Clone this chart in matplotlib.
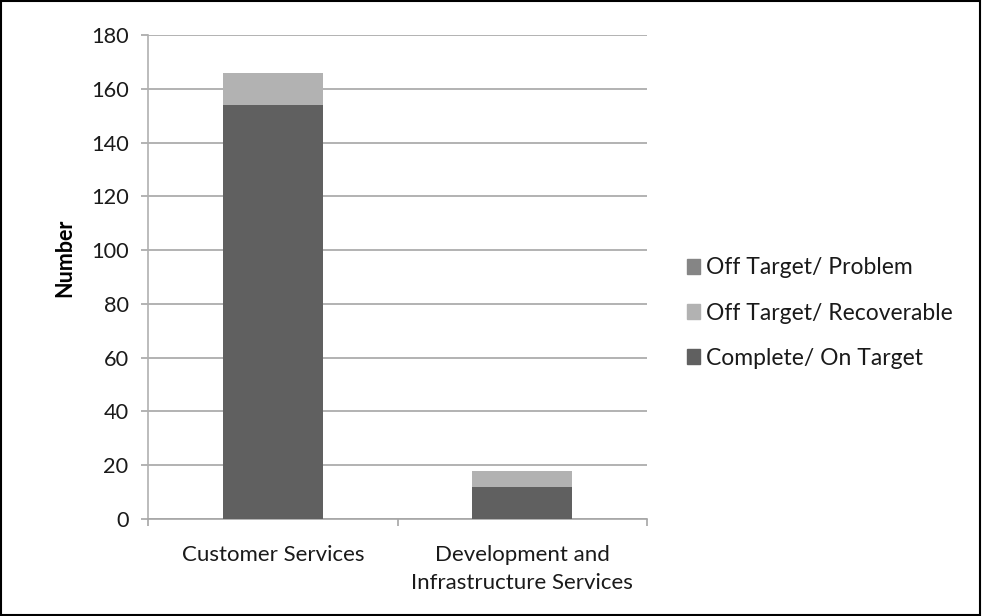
import matplotlib
matplotlib.use("Agg")
import matplotlib.pyplot as plt
from matplotlib.patches import Rectangle, Patch
import numpy as np

categories = ["Customer Services", "Development and\nInfrastructure Services"]
complete_on_target = [154, 12]
off_target_recoverable = [12, 6]
off_target_problem = [0, 0]
series_names = ["Off Target/ Problem", "Off Target/ Recoverable", "Complete/ On Target"]
yticks = [0, 20, 40, 60, 80, 100, 120, 140, 160, 180]

c_complete = "#606060"
c_recov = "#b2b2b2"
c_problem = "#858585"

plt.rcParams['font.family'] = ['Lato', 'DejaVu Sans']

fig = plt.figure(figsize=(9.82, 6.16), dpi=100)
ax = fig.add_axes([148/982, 1-519/616, (647-148)/982, (519-35)/616])

x = np.arange(len(categories))
w = 0.4
ax.bar(x, complete_on_target, w, color=c_complete, zorder=3)
ax.bar(x, off_target_recoverable, w, bottom=complete_on_target, color=c_recov, zorder=3)
bottom2 = np.array(complete_on_target) + np.array(off_target_recoverable)
ax.bar(x, off_target_problem, w, bottom=bottom2, color=c_problem, zorder=3)

ax.set_xlim(-0.5, 1.5)
ax.set_ylim(0, 180)
ax.set_yticks(yticks)
ax.yaxis.grid(True, color="#a6a6a6", linewidth=1.2, zorder=0)
for s in ["top", "right"]:
    ax.spines[s].set_visible(False)
ax.spines["left"].set_color("#b0b0b0")
ax.spines["bottom"].set_color("#a6a6a6")
ax.spines["left"].set_linewidth(1.2)
ax.spines["bottom"].set_linewidth(1.2)

ax.set_xticks(x)
ax.set_xticklabels(categories, fontsize=16, linespacing=1.45, color="#1a1a1a")
ax.set_xticks([-0.5, 0.5, 1.5], minor=True)
ax.tick_params(axis="x", which="major", length=0, pad=19)
ax.tick_params(axis="x", which="minor", length=5, color="#a6a6a6", width=1.2)
ax.tick_params(axis="y", length=5, color="#a6a6a6", width=1.2, labelsize=15.7, pad=9,
               labelcolor="#1a1a1a")
ax.set_ylabel("Number", fontsize=15.5, fontweight="bold")
ax.yaxis.set_label_coords(-0.146, 0.539)

handles = [Patch(color=c_problem), Patch(color=c_recov), Patch(color=c_complete)]
fig.legend(handles, series_names, loc="center left", bbox_to_anchor=(666/982, 1-313/616),
           frameon=False, fontsize=16.5, handlelength=0.6, handleheight=0.6,
           handletextpad=0.26, labelspacing=1.05, labelcolor="#1a1a1a")

fig.patches.append(Rectangle((0.001, 0.001), 0.997, 0.997, transform=fig.transFigure,
                             fill=False, edgecolor="black", linewidth=1.5))

fig.savefig("out.png", dpi=100)
